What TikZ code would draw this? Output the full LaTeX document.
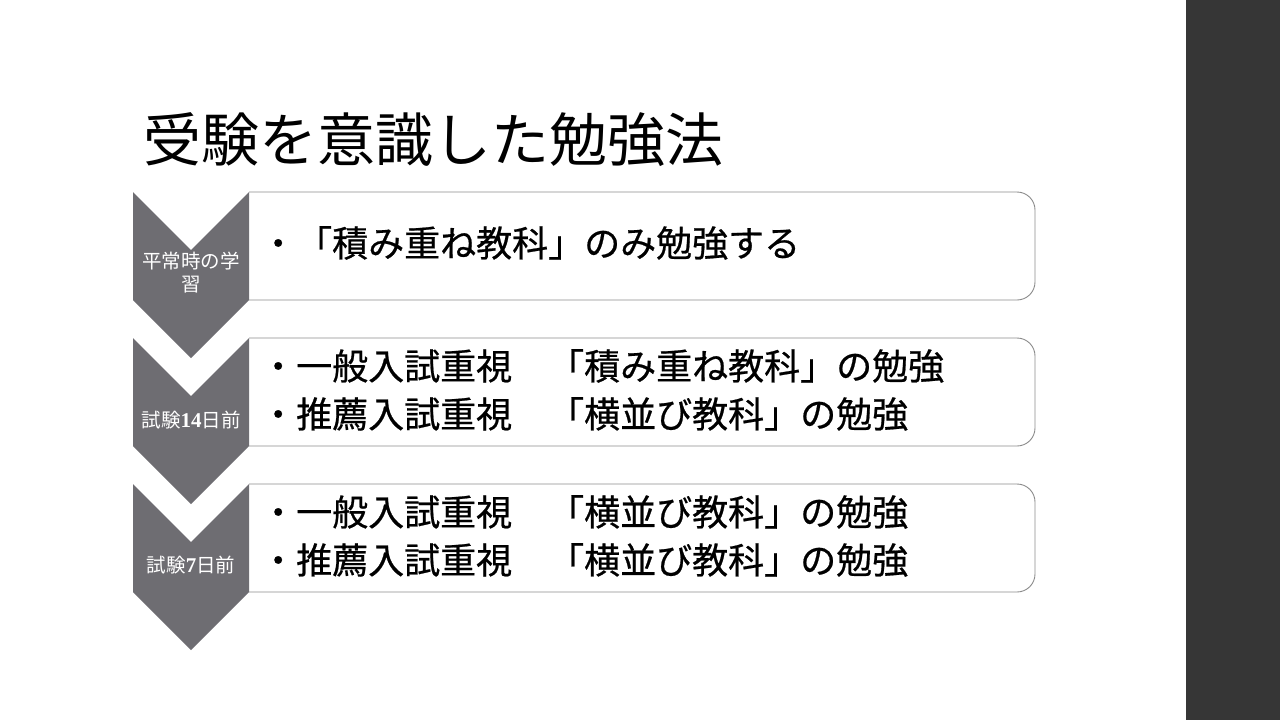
\documentclass[tikz,border=0pt]{standalone}
\usepackage{fontspec}
\setmainfont{Noto Sans CJK JP}
\newfontfamily\bodyfont[FakeBold=0.6]{Noto Sans CJK JP}
\newfontfamily\digitfont{Liberation Serif}
\definecolor{chev}{RGB}{110,109,114}
\definecolor{sidebar}{RGB}{54,54,54}
\definecolor{boxline}{RGB}{140,140,140}
\begin{document}
\begin{tikzpicture}[x=1pt,y=-1pt,
  chevron/.style={fill=chev,draw=none},
  itembox/.style={draw=boxline,line width=0.9pt},
  label/.style={text=white,font=\fontsize{19.5}{23}\selectfont,align=center,inner sep=0pt},
  body/.style={anchor=west,font=\bodyfont\fontsize{36}{48}\selectfont,align=left,inner sep=0pt},
]
\useasboundingbox (0,0) rectangle (1280,720);
\fill[white] (0,0) rectangle (1280,720);
\fill[sidebar] (1186,0) rectangle (1280,720);
\node[anchor=west,font=\fontsize{58}{62}\selectfont,inner sep=0pt] (title) at (143,140) {受験を意識した勉強法};
% boxes
\foreach \t/\n in {192/1,338/2,484/3}{
  \fill[white] (249,\t) rectangle (1035,\t+108);
  \draw[itembox] (249,\t) [rounded corners=18] -- (1035,\t) -- (1035,\t+108) -- (249,\t+108);
  \fill[chevron] (133,\t) -- (191,\t+58) -- (249,\t) -- (249,\t+108) -- (191,\t+166) -- (133,\t+108) -- cycle;
}
\node[label] (l1) at (191,273) {平常時の学\\習};
\node[label] (l2) at (191,420) {試験{\digitfont\bfseries\fontsize{21}{23}\selectfont 14}日前};
\node[label] (l3) at (191,565) {試験{\digitfont\bfseries\fontsize{21}{23}\selectfont 7}日前};
\node[body] (b1) at (260,243) {・「積み重ね教科」のみ勉強する};
\node[body] (b2) at (260,390) {・一般入試重視　「積み重ね教科」の勉強\\・推薦入試重視　「横並び教科」の勉強};
\node[body] (b3) at (260,536) {・一般入試重視　「横並び教科」の勉強\\・推薦入試重視　「横並び教科」の勉強};
\end{tikzpicture}
\end{document}
